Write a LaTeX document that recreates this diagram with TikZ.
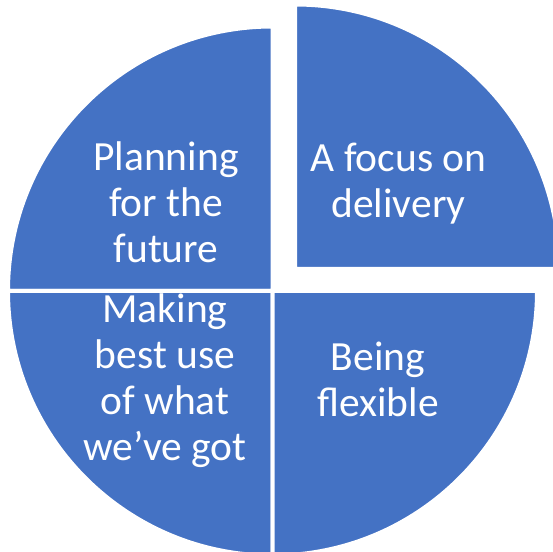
\documentclass[tikz,border=0pt]{standalone}
\usepackage{fontspec}
\setmainfont{Carlito}
\usetikzlibrary{positioning}
\definecolor{pieblue}{HTML}{4472C4}
\newcommand{\pierad}{264.5pt}

\begin{document}
\begin{tikzpicture}[x=1pt,y=1pt,
		slice/.style={fill=pieblue,draw=white,line width=4pt,line join=miter},
		label/.style={text=white,align=center,inner sep=0pt,font=\fontsize{41.5}{46}\selectfont}]
			\useasboundingbox (0,0) rectangle (553,551);
			\coordinate (O) at (272.5,260);
			\coordinate (E) at (295,282);

			% the four quarters, the top right one pulled out
			\filldraw[slice] (O) -- ++(90:\pierad) arc[start angle=90,end angle=180,radius=\pierad] -- cycle;
			\filldraw[slice] (O) -- ++(180:\pierad) arc[start angle=180,end angle=270,radius=\pierad] -- cycle;
			\filldraw[slice] (O) -- ++(270:\pierad) arc[start angle=270,end angle=360,radius=\pierad] -- cycle;
			\filldraw[slice] (E) -- ++(0:\pierad) arc[start angle=0,end angle=90,radius=\pierad] -- cycle;

			\node[label] (plan)  at (166,349) {Planning\\for the\\future};
			\node[label] (focus) at (398.5,367) {A focus on\\delivery};
			\node[label] (use)   at (165,170) {Making\\best use\\of what\\we’ve got};
			\node[label] (flex)  at (378,171.5) {Being\\flexible};
		\end{tikzpicture}
\end{document}
